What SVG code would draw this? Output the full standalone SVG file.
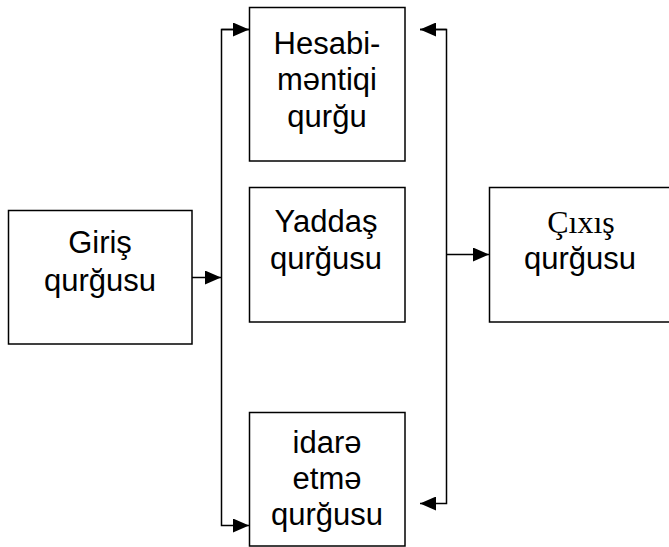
<svg xmlns="http://www.w3.org/2000/svg" width="669" height="547" viewBox="0 0 669 547">
<style>
.box{fill:#fff;stroke:#000;stroke-width:1.5}
.t{font-family:"Liberation Sans",Arial,sans-serif;font-size:31px;fill:#000;text-anchor:middle}
.s{font-family:"Liberation Serif",serif;font-size:32px}
.c{fill:none;stroke:#000;stroke-width:1.5}
</style>
<defs>
<marker id="ah" viewBox="0 0 16 14" refX="16" refY="7" markerWidth="16" markerHeight="14" markerUnits="userSpaceOnUse" orient="auto">
<path d="M0,0 L16,7 L0,14 Z" fill="#000"/>
</marker>
</defs>
<rect width="669" height="547" fill="#fff"/>
<g id="giris">
<rect class="box" x="8.5" y="210.5" width="183.5" height="133.5"/>
<text class="t" x="100" y="253">Giriş</text>
<text class="t" x="100" y="291">qurğusu</text>
</g>
<g id="hesabi">
<rect class="box" x="249.5" y="7.5" width="155.5" height="153.5"/>
<text class="t" x="327" y="53.5">Hesabi-</text>
<text class="t" x="327" y="90">məntiqi</text>
<text class="t" x="327" y="127">qurğu</text>
</g>
<g id="yaddas">
<rect class="box" x="249.5" y="187.5" width="155.5" height="134.5"/>
<text class="t" x="326" y="232">Yaddaş</text>
<text class="t" x="326" y="269">qurğusu</text>
</g>
<g id="idare">
<rect class="box" x="249.5" y="412.5" width="155.5" height="133.5"/>
<text class="t" x="327" y="453">idarə</text>
<text class="t" x="327" y="489">etmə</text>
<text class="t" x="327" y="525">qurğusu</text>
</g>
<g id="cixis">
<rect class="box" x="489.5" y="187.5" width="182" height="134.5"/>
<text class="t s" x="581" y="233">Çıxış</text>
<text class="t" x="580" y="269">qurğusu</text>
</g>
<g id="connectors">
<path class="c" d="M192,277.5 H221" marker-end="url(#ah)"/>
<path class="c" d="M249,29.5 H221.5 V525.5 H249" marker-end="url(#ah)"/>
<path class="c" d="M221.5,29.5 H249" marker-end="url(#ah)"/>
<path class="c" d="M420,29.5 H446.5 V503.5 H420" marker-end="url(#ah)"/>
<path class="c" d="M446.5,29.5 H420" marker-end="url(#ah)"/>
<path class="c" d="M446.5,254.5 H489" marker-end="url(#ah)"/>
</g>
</svg>
